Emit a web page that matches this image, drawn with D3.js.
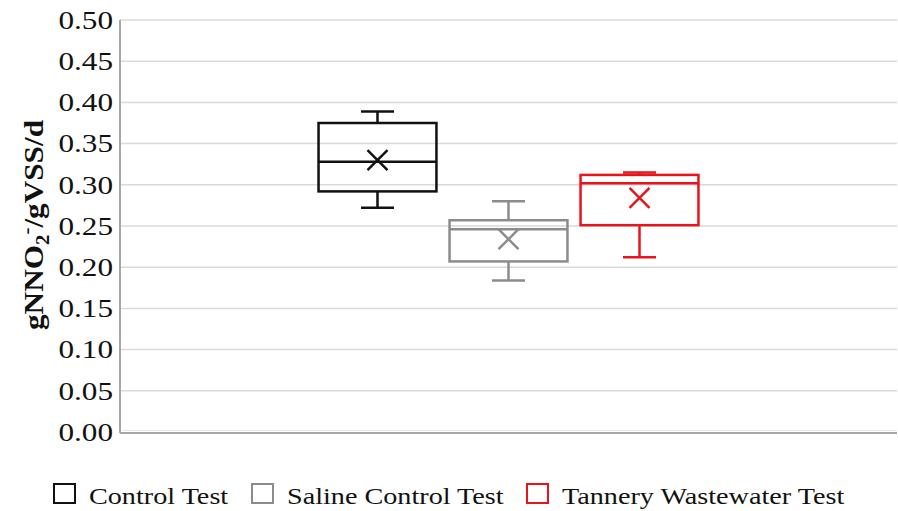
<!DOCTYPE html>
<html><head><meta charset="utf-8">
<script src="https://cdn.jsdelivr.net/npm/d3@7"></script>
<style>body{margin:0;background:#fff}svg{display:block}text{font-family:"Liberation Serif","Times New Roman",serif}</style>
</head><body><svg id="c" width="898" height="511"></svg>
<script>
const category = [""];
const series = ["Control Test", "Saline Control Test", "Tannery Wastewater Test"];
const colors = ["#111111", "#8c8c8c", "#e8141c"];
const whiskerMin = [0.272, 0.184, 0.212];
const q1 = [0.292, 0.207, 0.251];
const median = [0.328, 0.246, 0.302];
const q3 = [0.375, 0.257, 0.312];
const whiskerMax = [0.389, 0.280, 0.315];
const mean = [0.330, 0.234, 0.284];
const yTicks = [0, 0.05, 0.10, 0.15, 0.20, 0.25, 0.30, 0.35, 0.40, 0.45, 0.50];

const FONT = "Liberation Serif, Times New Roman, serif";
const svg = d3.select("#c");
const L = 120, R = 897, T = 20, B = 432;
const SX = 1.2;
const y = d3.scaleLinear().domain([0, 0.5]).range([B, T]);
const x0 = d3.scaleBand().domain(category).range([L, R]).paddingInner(0).paddingOuter(0.4885);
const x1 = d3.scaleBand().domain(series).range([0, x0.bandwidth()]).paddingInner(0.1).paddingOuter(0.05);

// gridlines
svg.append("g").selectAll("line").data(yTicks.filter(d => d > 0)).join("line")
  .attr("x1", L).attr("x2", R).attr("y1", d => y(d)).attr("y2", d => y(d))
  .attr("stroke", "#d9d9d9").attr("stroke-width", 1.5);
// frame
svg.append("line").attr("x1", L).attr("x2", L).attr("y1", T).attr("y2", B + 1).attr("stroke", "#a6a6a6").attr("stroke-width", 2);
svg.append("line").attr("x1", L).attr("x2", R).attr("y1", B + 1).attr("y2", B + 1).attr("stroke", "#a6a6a6").attr("stroke-width", 2);
svg.append("line").attr("x1", L + 3).attr("x2", R).attr("y1", B - 1.5).attr("y2", B - 1.5).attr("stroke", "#e6e6e6").attr("stroke-width", 1);

// y axis labels
const yAxis = d3.axisLeft(y).tickValues(yTicks).tickFormat(d3.format(".2f")).tickSize(0).tickPadding(0);
const ga = svg.append("g").attr("transform", `translate(${L - 7},0)`).call(yAxis)
  .attr("font-family", FONT).attr("font-size", 26);
ga.select(".domain").remove();
ga.selectAll("text").attr("x", 0).attr("transform", `scale(${SX},1)`).attr("fill", "#111");

// y title
const yt = svg.append("text").attr("transform", `translate(43,225) rotate(-90)`)
  .attr("text-anchor", "middle").attr("font-family", FONT)
  .attr("font-size", 27).attr("font-weight", "bold").attr("fill", "#111")
  .attr("textLength", 210).attr("lengthAdjust", "spacingAndGlyphs");
yt.append("tspan").text("gNNO");
yt.append("tspan").text("2").attr("font-size", 18).attr("dy", 6);
yt.append("tspan").text("-").attr("font-size", 18).attr("dy", -16);
yt.append("tspan").text("/gVSS/d").attr("dy", 10);

// boxes
const g = svg.append("g");
series.forEach((s, i) => {
  const bx = x0("") + x1(s), bw = x1.bandwidth(), cx = bx + bw / 2, cap = bw * 0.28;
  const c = colors[i];
  const gg = g.append("g").attr("stroke", c).attr("stroke-width", 2.5).attr("fill", "none");
  gg.append("line").attr("x1", cx).attr("x2", cx).attr("y1", y(whiskerMax[i])).attr("y2", y(q3[i]));
  gg.append("line").attr("x1", cx).attr("x2", cx).attr("y1", y(q1[i])).attr("y2", y(whiskerMin[i]));
  gg.append("line").attr("x1", cx - cap / 2).attr("x2", cx + cap / 2).attr("y1", y(whiskerMax[i])).attr("y2", y(whiskerMax[i]));
  gg.append("line").attr("x1", cx - cap / 2).attr("x2", cx + cap / 2).attr("y1", y(whiskerMin[i])).attr("y2", y(whiskerMin[i]));
  gg.append("rect").attr("x", bx).attr("width", bw).attr("y", y(q3[i])).attr("height", y(q1[i]) - y(q3[i]));
  gg.append("line").attr("x1", bx).attr("x2", bx + bw).attr("y1", y(median[i])).attr("y2", y(median[i]));
  const m = 10, my = y(mean[i]);
  gg.append("path").attr("d", `M${cx - m},${my - m}L${cx + m},${my + m}M${cx - m},${my + m}L${cx + m},${my - m}`);
});

// legend
const legX = [54, 252, 527];
const lg = svg.append("g");
series.forEach((s, i) => {
  lg.append("rect").attr("x", legX[i]).attr("y", 484).attr("width", 21).attr("height", 19)
    .attr("fill", "none").attr("stroke", colors[i]).attr("stroke-width", 2);
  lg.append("text").attr("x", (legX[i] + 35) / SX).attr("y", 504).attr("transform", `scale(${SX},1)`)
    .attr("font-family", FONT).attr("font-size", 23.5)
    .attr("fill", "#111").text(s);
});
</script></body></html>
